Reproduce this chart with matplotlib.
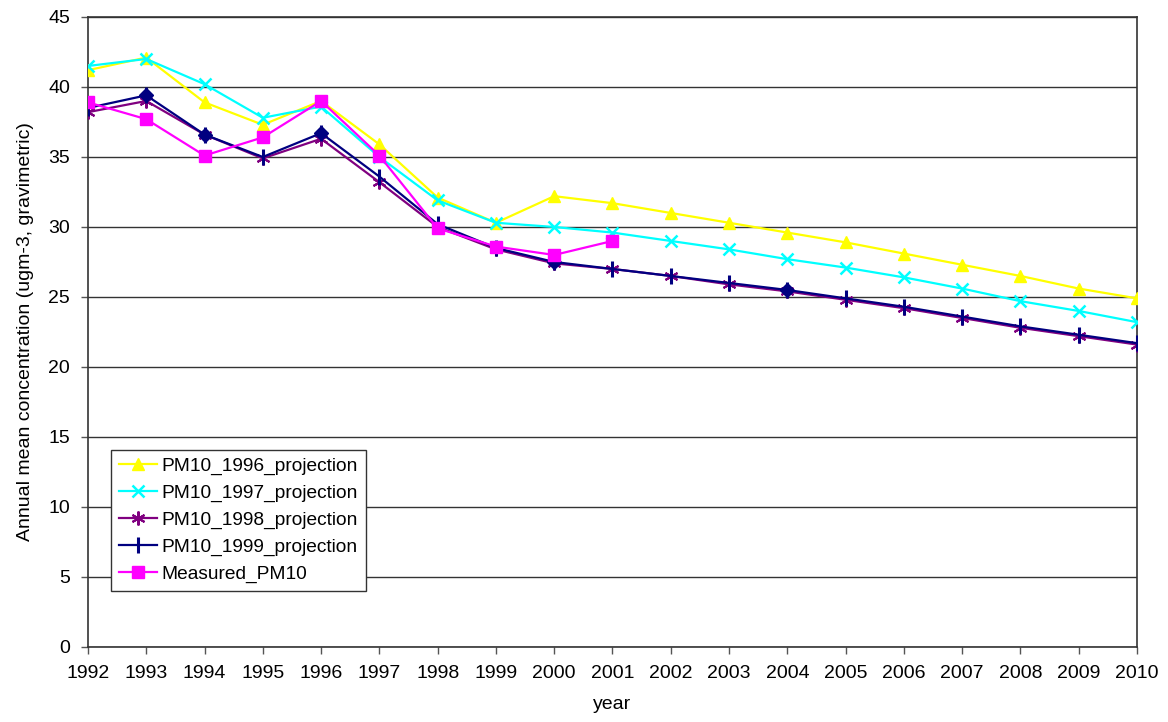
import matplotlib
matplotlib.use("Agg")
import matplotlib.pyplot as plt

plt.rcParams["font.family"] = ["Liberation Sans", "DejaVu Sans"]

years = list(range(1992, 2011))

pm10_1996 = [41.2, 42.1, 38.9, 37.3, 39.0, 35.9, 32.1, 30.3, 32.2, 31.7,
             31.0, 30.3, 29.6, 28.9, 28.1, 27.3, 26.5, 25.6, 24.9]
pm10_1997 = [41.5, 42.0, 40.2, 37.8, 38.6, 35.0, 31.9, 30.3, 30.0, 29.6,
             29.0, 28.4, 27.7, 27.1, 26.4, 25.6, 24.7, 24.0, 23.2]
pm10_1998 = [38.2, 39.0, 36.6, 34.9, 36.3, 33.2, 30.0, 28.4, 27.4, 27.0,
             26.5, 25.9, 25.4, 24.8, 24.2, 23.5, 22.8, 22.2, 21.6]
pm10_1999 = [38.5, 39.4, 36.6, 35.0, 36.7, 33.6, 30.2, 28.5, 27.5, 27.0,
             26.5, 26.0, 25.5, 24.9, 24.3, 23.6, 22.9, 22.3, 21.7]
measured_years = list(range(1992, 2002))
measured_pm10 = [38.9, 37.7, 35.1, 36.4, 39.0, 35.1, 29.9, 28.6, 28.0, 29.0]

# indices where the 1999 series shows diamond markers
diamond_idx = [1, 2, 4, 8, 12]

fig, ax = plt.subplots(figsize=(11.68, 7.22), dpi=100)
fig.subplots_adjust(left=0.0753, right=0.9735, top=0.9765, bottom=0.1039)

ax.plot(years, pm10_1996, color="#FFFF00", lw=1.6, marker="^", ms=9,
        label="PM10_1996_projection", zorder=3)
ax.plot(years, pm10_1997, color="#00FFFF", lw=1.6, marker="x", ms=9, mew=1.8,
        label="PM10_1997_projection", zorder=3)
ax.plot(years, pm10_1998, color="#800080", lw=1.6, marker=(6, 2, 0), ms=10,
        mew=1.5, label="PM10_1998_projection", zorder=4)
ax.plot(years, pm10_1999, color="#000080", lw=1.6, marker="|", ms=11, mew=2.2,
        label="PM10_1999_projection", zorder=5)
ax.plot(years, pm10_1999, color="#000080", lw=0, marker="D", ms=7,
        markevery=diamond_idx, zorder=5)
ax.plot(measured_years, measured_pm10, color="#FF00FF", lw=1.6, marker="s",
        ms=9, label="Measured_PM10", zorder=6)

ax.set_xlim(1992, 2010)
ax.set_ylim(0, 45)
ax.set_xticks(years)
ax.set_yticks(range(0, 46, 5))
ax.tick_params(labelsize=14, direction="out", length=5, width=1, color="#555555")
ax.tick_params(axis="x", pad=8)
ax.tick_params(axis="y", pad=8)
ax.yaxis.grid(True, color="#333333", lw=1)
ax.set_axisbelow(True)
for s in ax.spines.values():
    s.set_color("#333333")
    s.set_linewidth(1.2)

ax.set_xlabel("year", fontsize=14, labelpad=10)
ax.set_ylabel("Annual mean concentration (ugm-3, gravimetric)", fontsize=14,
              labelpad=10)

leg = ax.legend(loc="lower left", bbox_to_anchor=(0.022, 0.089), fontsize=13.75,
                fancybox=False, edgecolor="#333333", framealpha=1,
                handlelength=2.0, borderpad=0.4, labelspacing=0.5,
                handletextpad=0.25, borderaxespad=0)
leg.get_frame().set_linewidth(1)

fig.savefig("out.png", dpi=100)
